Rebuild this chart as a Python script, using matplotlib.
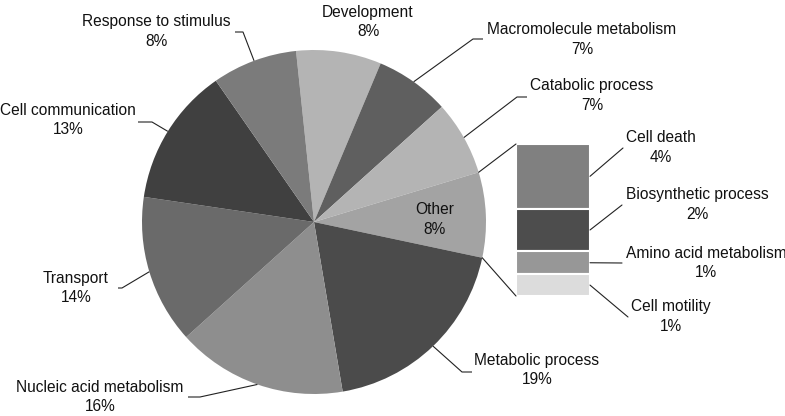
import numpy as np
import matplotlib
matplotlib.use("Agg")
import matplotlib.pyplot as plt
from matplotlib.patches import ConnectionPatch

plt.rcParams['font.family'] = ['Liberation Sans', 'DejaVu Sans']

# main pie data (clockwise from top)
names = ['Development', 'Macromolecule metabolism', 'Catabolic process', 'Other',
         'Metabolic process', 'Nucleic acid metabolism', 'Transport',
         'Cell communication', 'Response to stimulus']
pcts = [8, 7, 7, 8, 19, 16, 14, 13, 8]
colors = ['#b4b4b4', '#5f5f5f', '#b4b4b4', '#a3a3a3', '#4b4b4b',
          '#8e8e8e', '#6a6a6a', '#404040', '#7b7b7b']

# breakdown of "Other" (top to bottom)
other_names = ['Cell death', 'Biosynthetic process', 'Amino acid metabolism', 'Cell motility']
other_pcts = [4, 2, 1, 1]
other_vals = [3.4, 2.25, 1.2, 1.15]
other_colors = ['#808080', '#4d4d4d', '#979797', '#dcdcdc']

W, H = 785, 416
def px(x, y):
  return (x, H - y)

fig = plt.figure(figsize=(W / 100, H / 100), dpi=100)
ax = fig.add_axes([0, 0, 1, 1])
cx, cy = px(314, 222)
R = 172
wedges, _ = ax.pie(pcts, colors=colors, startangle=96, counterclock=False,
                   center=(cx, cy), radius=R, wedgeprops=dict(linewidth=0))
ax.set_xlim(0, W)
ax.set_ylim(0, H)
ax.set_aspect('equal')
ax.axis('off')

def edge_point(w, frac=0.5):
  ang = np.deg2rad(w.theta1 + (w.theta2 - w.theta1) * frac)
  return cx + R * np.cos(ang), cy + R * np.sin(ang)

fs = 11.2
ls = 1.4
# label text position and leader elbow/end (pixel coords from top)
label_pos = {
  'Development': ((368, 22), None),
  'Macromolecule metabolism': ((582, 39.5), [(473, 39), (483, 39)]),
  'Catabolic process': ((592, 95.5), [(517, 97), (527, 97)]),
  'Other': ((435, 219.5), None),
  'Metabolic process': ((537, 370), [(462, 372), (472, 372)]),
  'Nucleic acid metabolism': ((100, 397), [(200, 397), (188, 397)]),
  'Transport': ((76, 288), [(122, 288), (118, 288)]),
  'Cell communication': ((68, 120), [(152, 122), (138, 122)]),
  'Response to stimulus': ((156, 31.5), [(243, 32), (235, 32)]),
}
for w, name, p in zip(wedges, names, pcts):
  tpos, path = label_pos[name]
  ax.text(*px(*tpos), f"{name}\n{p}%", ha='center', va='center',
          fontsize=fs, linespacing=ls, color='#111111')
  if path:
    pts = [edge_point(w)] + [px(*q) for q in path]
    xs, ys = zip(*pts)
    ax.plot(xs, ys, color='#222222', lw=0.8, solid_capstyle='butt')

# stacked bar for "Other"
total = sum(other_vals)
bx0, by_top, bw = 516, 144, 74
bh = 152
axb = fig.add_axes([bx0 / W, (H - by_top - bh) / H, bw / W, bh / H])
bottoms = total - np.cumsum(other_vals)
axb.bar(0.5, other_vals, bottom=bottoms, width=1, color=other_colors,
        edgecolor='white', linewidth=1.5)
axb.set_xlim(0, 1)
axb.set_ylim(0, total)
axb.axis('off')

# connectors from Other wedge to bar (upper edge -> bar top, lower edge -> bar bottom)
w_other = wedges[names.index('Other')]
for frac, yb in [(1, total), (0, 0)]:
  con = ConnectionPatch(xyA=edge_point(w_other, frac), coordsA=ax.transData,
                        xyB=(0, yb), coordsB=axb.transData,
                        color='#222222', lw=0.8)
  fig.add_artist(con)

other_label_pos = [((661, 147.5), (623, 148)), ((697, 204.5), (622, 205)),
                   ((706, 263), (622, 263)), ((671, 316.5), (628, 317))]
for i, (name, p) in enumerate(zip(other_names, other_pcts)):
  tpos, end = other_label_pos[i]
  ax.text(*px(*tpos), f"{name}\n{p}%", ha='center', va='center',
          fontsize=fs, linespacing=ls, color='#111111')
  mid = bottoms[i] + other_vals[i] / 2
  con = ConnectionPatch(xyA=(1, mid), coordsA=axb.transData,
                        xyB=px(*end), coordsB=ax.transData,
                        color='#222222', lw=0.8)
  fig.add_artist(con)

fig.savefig('out.png', dpi=100)
